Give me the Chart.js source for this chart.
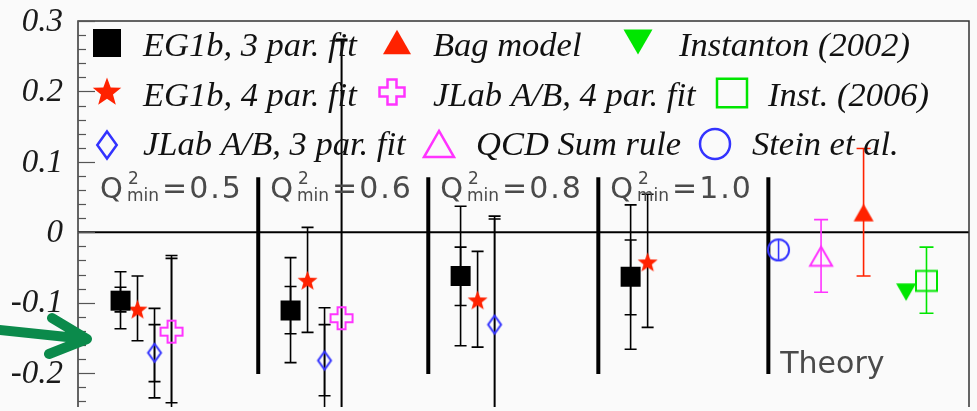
<!DOCTYPE html>
<html>
<head>
<meta charset="utf-8">
<script src="https://cdn.jsdelivr.net/npm/chart.js@4.4.1/dist/chart.umd.min.js"></script>
<style>
html, body { margin: 0; padding: 0; background: #fafafa; }
canvas { display: block; }
</style>
</head>
<body>
<canvas id="sumChart" width="977" height="411"></canvas>
<script>
// x: one unit per Q2min group, theory points sit after the last group
const groupX = [0, 1, 2, 3];
const qMinLabels = ['0.5', '0.6', '0.8', '1.0'];
const separatorX = [0.81, 1.81, 2.81, 3.81];

// EG1b, 3 par. fit (inner = stat, outer = total)
const eg1b3Y = [-0.097, -0.111, -0.062, -0.063];
const eg1b3StatLo = [-0.113, -0.144, -0.104, -0.117];
const eg1b3StatHi = [-0.078, -0.077, -0.021, -0.011];
const eg1b3TotLo = [-0.137, -0.185, -0.161, -0.166];
const eg1b3TotHi = [-0.056, -0.036, 0.037, 0.039];

// EG1b, 4 par. fit
const eg1b4Y = [-0.109, -0.068, -0.096, -0.042];
const eg1b4Lo = [-0.154, -0.142, -0.163, -0.135];
const eg1b4Hi = [-0.062, 0.007, -0.027, 0.054];

// JLab A/B, 3 par. fit
const jlab3Y = [-0.171, -0.182, -0.131];
const jlab3StatLo = [-0.212, -0.232, -0.28];
const jlab3StatHi = [-0.131, -0.131, 0.019];
const jlab3TotLo = [-0.235, -0.27, -0.3];
const jlab3TotHi = [-0.108, -0.107, 0.023];

// JLab A/B, 4 par. fit
const jlab4Y = [-0.141, -0.122];
const jlab4StatLo = [-0.242, -0.3];
const jlab4StatHi = [-0.037, 0.272];
const jlab4TotLo = [-0.26, -0.32];
const jlab4TotHi = [-0.033, 0.274];

// theory predictions
const theoryNames = ['Stein et al.', 'QCD Sum rule', 'Bag model', 'Instanton (2002)', 'Inst. (2006)'];
const theoryX = [3.87, 4.12, 4.37, 4.62, 4.74];
const theoryY = [-0.025, -0.034, 0.028, -0.085, -0.069];
const theoryLo = [-0.039, -0.085, -0.062, null, -0.115];
const theoryHi = [-0.011, 0.018, 0.119, null, -0.021];

const yMajor = [0.3, 0.2, 0.1, 0, -0.1, -0.2];
const yLabels = ['0.3', '0.2', '0.1', '0', '-0.1', '-0.2'];

const RED = '#ff2200';
const MAGENTA = '#ff33ff';
const BLUE = '#3333ff';
const GREEN = '#00e600';

function drawShape(g, kind, color, s) {
    const h = s / 2;
    g.fillStyle = color;
    g.strokeStyle = color;
    g.lineWidth = s > 24 ? 2.5 : 2;
    g.beginPath();
    switch (kind) {
        case 'square':
            g.rect(-h, -h, s, s); g.fill(); break;
        case 'squareOpen':
            g.rect(-h, -h * 0.95, s, s * 0.95); g.stroke(); break;
        case 'star':
            for (let k = 0; k < 10; k++) {
                const r = k % 2 ? h * 0.42 : h;
                const a = -Math.PI / 2 + k * Math.PI / 5;
                g.lineTo(r * Math.cos(a), r * Math.sin(a) + h * 0.1);
            }
            g.closePath(); g.fill(); break;
        case 'diamond':
            g.moveTo(0, -h); g.lineTo(h * 0.72, 0); g.lineTo(0, h); g.lineTo(-h * 0.72, 0);
            g.closePath(); g.stroke(); break;
        case 'plus': {
            const a = s * 0.18;
            g.moveTo(-a, -h); g.lineTo(a, -h); g.lineTo(a, -a); g.lineTo(h, -a);
            g.lineTo(h, a); g.lineTo(a, a); g.lineTo(a, h); g.lineTo(-a, h);
            g.lineTo(-a, a); g.lineTo(-h, a); g.lineTo(-h, -a); g.lineTo(-a, -a);
            g.closePath(); g.stroke(); break;
        }
        case 'triUp':
            g.moveTo(0, -h * 0.87); g.lineTo(h, h * 0.87); g.lineTo(-h, h * 0.87);
            g.closePath(); g.fill(); break;
        case 'triUpOpen':
            g.moveTo(0, -h * 0.87); g.lineTo(h, h * 0.87); g.lineTo(-h, h * 0.87);
            g.closePath(); g.stroke(); break;
        case 'triDown':
            g.moveTo(-h, -h * 0.87); g.lineTo(h, -h * 0.87); g.lineTo(0, h * 0.87);
            g.closePath(); g.fill(); break;
        case 'circleOpen':
            g.arc(0, 0, h, 0, Math.PI * 2); g.stroke(); break;
    }
}

function makeMarker(kind, color, size) {
    const c = document.createElement('canvas');
    c.width = c.height = size + 8;
    const g = c.getContext('2d');
    g.translate(c.width / 2, c.height / 2);
    drawShape(g, kind, color, size);
    return c;
}

function points(xs, ys, offset) {
    return ys.map((y, i) => ({ x: xs[i] + offset, y: y }));
}

const theoryKinds = [['circleOpen', BLUE, 21], ['triUpOpen', MAGENTA, 22], ['triUp', RED, 20], ['triDown', GREEN, 20], ['squareOpen', GREEN, 21]];

const datasets = [
    { label: 'EG1b, 3 par. fit', data: points(groupX, eg1b3Y, 0), pointStyle: makeMarker('square', '#000', 20) },
    { label: 'EG1b, 4 par. fit', data: points(groupX, eg1b4Y, 0.1), pointStyle: makeMarker('star', RED, 21) },
    { label: 'JLab A/B, 3 par. fit', data: points(groupX, jlab3Y, 0.2), pointStyle: makeMarker('diamond', BLUE, 18) },
    { label: 'JLab A/B, 4 par. fit', data: points(groupX, jlab4Y, 0.3), pointStyle: makeMarker('plus', MAGENTA, 22) }
];
theoryNames.forEach((name, i) => {
    const k = theoryKinds[i];
    datasets.push({ label: name, data: [{ x: theoryX[i], y: theoryY[i] }], pointStyle: makeMarker(k[0], k[1], k[2]) });
});

const legendItems = [
    { kind: 'square', color: '#000', size: 28, mx: 107, my: 43, tx: 143, ty: 56, text: 'EG1b, 3 par. fit' },
    { kind: 'triUp', color: RED, size: 28, mx: 397, my: 42, tx: 433, ty: 56, text: 'Bag model' },
    { kind: 'triDown', color: GREEN, size: 29, mx: 638, my: 42, tx: 679, ty: 56, text: 'Instanton (2002)' },
    { kind: 'star', color: RED, size: 30, mx: 107, my: 91, tx: 143, ty: 106, text: 'EG1b, 4 par. fit' },
    { kind: 'plus', color: MAGENTA, size: 25, mx: 392, my: 92, tx: 433, ty: 106, text: 'JLab A/B, 4 par. fit' },
    { kind: 'squareOpen', color: GREEN, size: 30, mx: 732, my: 93, tx: 768, ty: 106, text: 'Inst. (2006)' },
    { kind: 'diamond', color: BLUE, size: 27, mx: 107, my: 145, tx: 143, ty: 155, text: 'JLab A/B, 3 par. fit' },
    { kind: 'triUpOpen', color: MAGENTA, size: 30, mx: 439, my: 144, tx: 476, ty: 155, text: 'QCD Sum rule' },
    { kind: 'circleOpen', color: BLUE, size: 30, mx: 715, my: 144, tx: 752, ty: 155, text: 'Stein et al.' }
];

function errorBar(ctx, ys, px, lo, hi, capHalf) {
    const y1 = ys.getPixelForValue(lo);
    const y2 = ys.getPixelForValue(hi);
    ctx.beginPath();
    ctx.moveTo(px, y1); ctx.lineTo(px, y2);
    if (capHalf) {
        ctx.moveTo(px - capHalf, y1); ctx.lineTo(px + capHalf, y1);
        ctx.moveTo(px - capHalf, y2); ctx.lineTo(px + capHalf, y2);
    }
    ctx.stroke();
}

const decorPlugin = {
    id: 'decor',
    beforeDatasetsDraw(chart) {
        const { ctx, chartArea: a } = chart;
        const xs = chart.scales.x, ys = chart.scales.y;
        ctx.save();
        ctx.beginPath();
        ctx.rect(a.left, a.top, a.right - a.left, a.bottom - a.top);
        ctx.clip();

        // zero line
        ctx.strokeStyle = '#000';
        ctx.lineWidth = 2;
        ctx.beginPath();
        ctx.moveTo(a.left, ys.getPixelForValue(0));
        ctx.lineTo(a.right, ys.getPixelForValue(0));
        ctx.stroke();

        // group separators
        ctx.lineWidth = 4;
        separatorX.forEach(v => {
            const px = xs.getPixelForValue(v);
            ctx.beginPath();
            ctx.moveTo(px, ys.getPixelForValue(0.078));
            ctx.lineTo(px, ys.getPixelForValue(-0.201));
            ctx.stroke();
        });

        // data error bars
        ctx.lineWidth = 1.6;
        ctx.strokeStyle = '#000';
        eg1b3Y.forEach((y, i) => {
            const px = xs.getPixelForValue(groupX[i]);
            errorBar(ctx, ys, px, eg1b3TotLo[i], eg1b3TotHi[i], 6);
            errorBar(ctx, ys, px, eg1b3StatLo[i], eg1b3StatHi[i], 6);
        });
        eg1b4Y.forEach((y, i) => {
            const px = xs.getPixelForValue(groupX[i] + 0.1);
            errorBar(ctx, ys, px, eg1b4Lo[i], eg1b4Hi[i], 6);
        });
        jlab3Y.forEach((y, i) => {
            const px = xs.getPixelForValue(groupX[i] + 0.2);
            errorBar(ctx, ys, px, jlab3TotLo[i], jlab3TotHi[i], 6);
            errorBar(ctx, ys, px, jlab3StatLo[i], jlab3StatHi[i], 6);
        });
        jlab4Y.forEach((y, i) => {
            const px = xs.getPixelForValue(groupX[i] + 0.3);
            errorBar(ctx, ys, px, jlab4TotLo[i], jlab4TotHi[i], 6);
            errorBar(ctx, ys, px, jlab4StatLo[i], jlab4StatHi[i], 6);
        });

        // theory error bars
        theoryNames.forEach((n, i) => {
            if (theoryLo[i] === null) return;
            ctx.strokeStyle = theoryKinds[i][1];
            const px = xs.getPixelForValue(theoryX[i]);
            errorBar(ctx, ys, px, theoryLo[i], theoryHi[i], i === 0 ? 0 : 7);
        });
        ctx.restore();
    },
    afterDatasetsDraw(chart) {
        const { ctx, chartArea: a } = chart;
        const xs = chart.scales.x, ys = chart.scales.y;
        ctx.save();

        // frame
        ctx.strokeStyle = '#333';
        ctx.lineWidth = 1.5;
        ctx.beginPath();
        ctx.moveTo(a.left, a.bottom);
        ctx.lineTo(a.left, a.top);
        ctx.lineTo(a.right, a.top);
        ctx.lineTo(a.right, a.bottom);
        ctx.stroke();

        // inner ticks on the y axis
        ctx.strokeStyle = '#555';
        ctx.lineWidth = 1.2;
        for (let v = -0.24; v <= 0.301; v += 0.02) {
            const py = Math.round(ys.getPixelForValue(v)) + 0.5;
            const major = yMajor.some(m => Math.abs(m - v) < 0.001);
            ctx.beginPath();
            ctx.moveTo(a.left, py);
            ctx.lineTo(a.left + (major ? 17 : 8), py);
            ctx.stroke();
        }

        // y tick labels
        ctx.fillStyle = '#1a1a1a';
        ctx.font = 'italic 33px "Liberation Serif"';
        ctx.textAlign = 'right';
        ctx.textBaseline = 'middle';
        yMajor.forEach((v, i) => {
            ctx.fillText(yLabels[i], 63, ys.getPixelForValue(v) + 1);
        });

        // legend
        ctx.textAlign = 'left';
        ctx.textBaseline = 'alphabetic';
        ctx.font = 'italic 34.5px "Liberation Serif"';
        legendItems.forEach(it => {
            ctx.save();
            ctx.translate(it.mx, it.my);
            drawShape(ctx, it.kind, it.color, it.size);
            ctx.restore();
            ctx.fillStyle = '#111';
            ctx.fillText(it.text, it.tx, it.ty);
        });

        // Q2min group labels
        ctx.fillStyle = '#4a4a4a';
        qMinLabels.forEach((q, i) => {
            let px = xs.getPixelForValue(groupX[i] - 0.12);
            const base = ys.getPixelForValue(0.049);
            ctx.font = '29px "DejaVu Sans"';
            ctx.letterSpacing = '0px';
            ctx.fillText('Q', px, base);
            px += ctx.measureText('Q').width + 4;
            ctx.font = '17px "DejaVu Sans"';
            ctx.fillText('2', px + 1, base - 14);
            ctx.fillText('min', px, base + 3);
            px += ctx.measureText('min').width + 3;
            ctx.font = '30px "DejaVu Sans"';
            ctx.letterSpacing = '2px';
            ctx.fillText('=' + q, px, base);
        });
        ctx.letterSpacing = '0px';

        // theory label
        ctx.font = '30px "DejaVu Sans"';
        ctx.fillText('Theory', xs.getPixelForValue(3.88), ys.getPixelForValue(-0.2));

        // green arrow annotation
        ctx.strokeStyle = '#0b8a4b';
        ctx.lineWidth = 10;
        ctx.lineCap = 'round';
        ctx.lineJoin = 'round';
        ctx.beginPath();
        ctx.moveTo(-10, 329);
        ctx.lineTo(86, 339);
        ctx.moveTo(52, 318);
        ctx.lineTo(87, 339);
        ctx.lineTo(49, 354);
        ctx.stroke();
        ctx.restore();
    }
};

new Chart(document.getElementById('sumChart'), {
    type: 'scatter',
    data: { datasets: datasets },
    options: {
        responsive: false,
        animation: false,
        events: [],
        layout: { padding: { left: 78, top: 21, right: 8, bottom: 0 } },
        elements: { point: { hoverRadius: 0 } },
        scales: {
            x: { type: 'linear', min: -0.25, max: 4.99, display: false },
            y: { type: 'linear', min: -0.248, max: 0.3, display: false }
        },
        plugins: {
            legend: { display: false },
            tooltip: { enabled: false }
        }
    },
    plugins: [decorPlugin]
});
</script>
</body>
</html>
